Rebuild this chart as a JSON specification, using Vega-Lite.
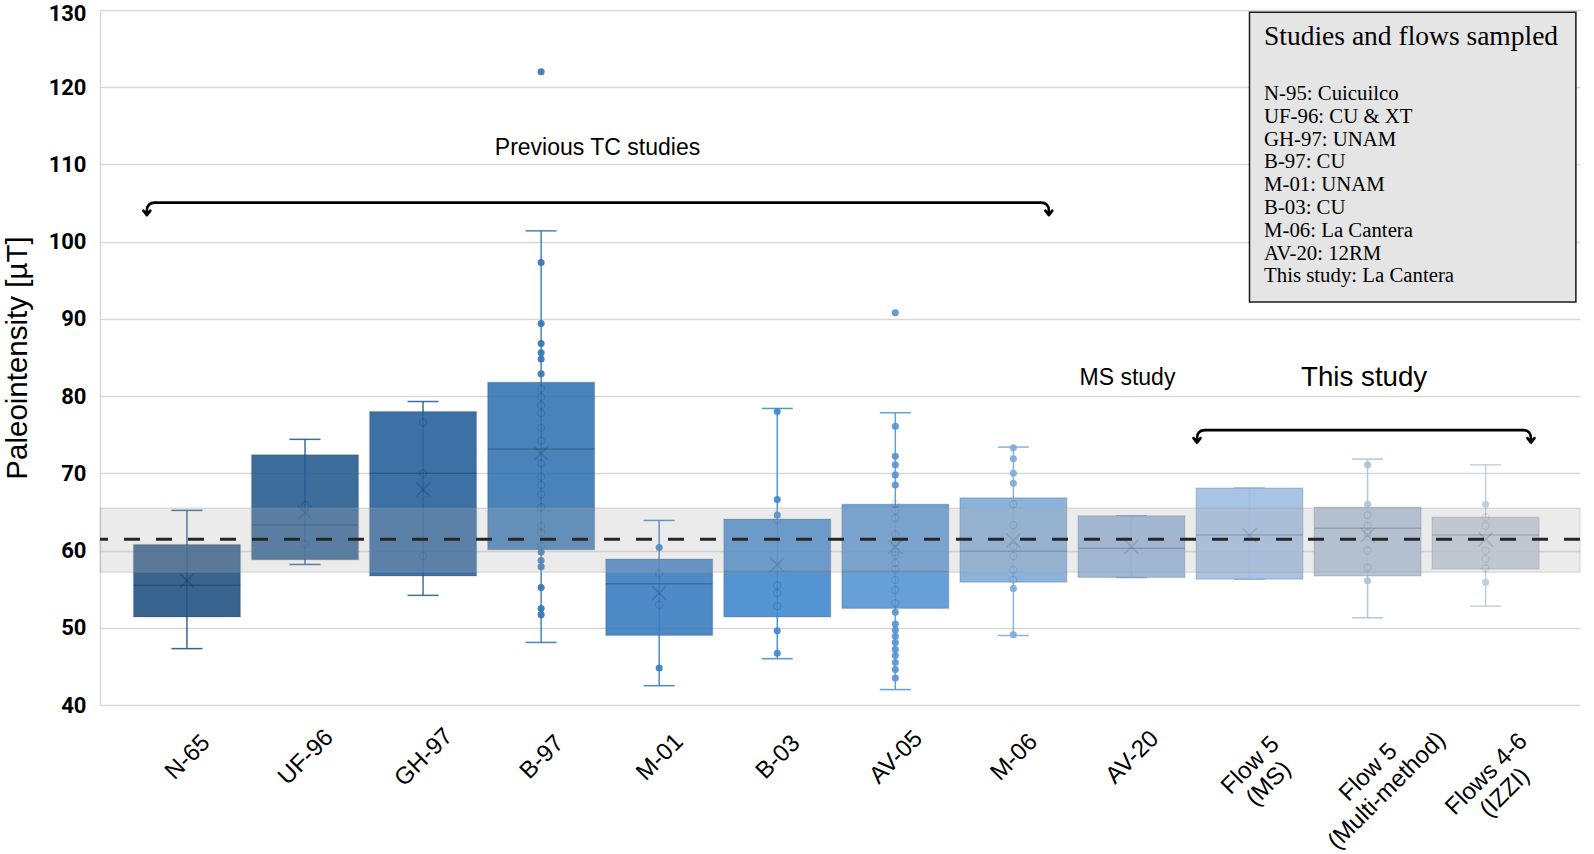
{
  "$schema": "https://vega.github.io/schema/vega-lite/v6.json",
  "width": 1480,
  "height": 695,
  "autosize": {"type": "none"},
  "padding": {"left": 100, "top": 10, "right": 14, "bottom": 149},
  "background": "white",
  "config": {
    "view": {"stroke": null},
    "font": "Liberation Sans",
    "axisX": {
      "labelAngle": -45, "labelAlign": "center", "labelBaseline": "middle",
      "labelFont": "Liberation Sans", "labelFontSize": 24, "labelColor": "#000",
      "labelOffset": 1, "ticks": false, "tickSize": 0,
      "domain": false, "grid": false, "labelOverlap": false, "labelLimit": 0,
      "labelLineHeight": 26
    },
    "axisY": {
      "grid": true, "gridColor": "#d9d9d9", "gridWidth": 1.5,
      "domain": true, "domainColor": "#d9d9d9", "domainWidth": 1.5,
      "ticks": false, "tickSize": 0, "tickCount": 10,
      "labelFont": "Roboto", "labelFontWeight": "bold", "labelFontSize": 22, "labelColor": "#000", "labelPadding": 14,
      "titleFont": "Liberation Sans", "titleFontSize": 29.5, "titleFontWeight": "normal", "titleColor": "#000", "titlePadding": 16
    }
  },
  "datasets": {
    "boxes": [
      {"cat": "N-65", "min": 47.3, "q1": 51.4, "median": 55.5, "q3": 60.8, "max": 65.2, "mean": 56.1},
      {"cat": "UF-96", "min": 58.2, "q1": 58.8, "median": 63.3, "q3": 72.4, "max": 74.4, "mean": 64.9},
      {"cat": "GH-97", "min": 54.2, "q1": 56.7, "median": 70.0, "q3": 78.0, "max": 79.3, "mean": 67.9},
      {"cat": "B-97", "min": 48.1, "q1": 60.1, "median": 73.15, "q3": 81.8, "max": 101.4, "mean": 72.6},
      {"cat": "M-01", "min": 42.5, "q1": 49.0, "median": 55.7, "q3": 58.9, "max": 63.9, "mean": 54.5},
      {"cat": "B-03", "min": 46.0, "q1": 51.4, "median": 57.3, "q3": 64.1, "max": 78.4, "mean": 58.2},
      {"cat": "AV-05", "min": 42.0, "q1": 52.5, "median": 57.3, "q3": 66.0, "max": 77.85, "mean": 60.5},
      {"cat": "M-06", "min": 49.0, "q1": 55.9, "median": 59.9, "q3": 66.85, "max": 73.4, "mean": 61.3},
      {"cat": "AV-20", "min": 56.5, "q1": 56.5, "median": 60.3, "q3": 64.5, "max": 64.5, "mean": 60.5},
      {"cat": "Flow 5 (MS)", "min": 56.3, "q1": 56.3, "median": 62.0, "q3": 68.1, "max": 68.1, "mean": 62.0},
      {"cat": "Flow 5 (Multi-method)", "min": 51.3, "q1": 56.7, "median": 62.9, "q3": 65.6, "max": 71.85, "mean": 62.0},
      {"cat": "Flows 4-6 (IZZI)", "min": 52.8, "q1": 57.6, "median": 62.0, "q3": 64.3, "max": 71.1, "mean": 61.45}
    ],
    "points": [
      {"cat": "UF-96", "v": 65.9}, {"cat": "UF-96", "v": 60.85},
      {"cat": "GH-97", "v": 76.6}, {"cat": "GH-97", "v": 70.0}, {"cat": "GH-97", "v": 59.3},
      {"cat": "B-97", "v": 122.0}, {"cat": "B-97", "v": 97.3}, {"cat": "B-97", "v": 89.4}, {"cat": "B-97", "v": 86.8},
      {"cat": "B-97", "v": 85.6}, {"cat": "B-97", "v": 84.8}, {"cat": "B-97", "v": 82.9}, {"cat": "B-97", "v": 81.0},
      {"cat": "B-97", "v": 79.9}, {"cat": "B-97", "v": 78.8}, {"cat": "B-97", "v": 77.8}, {"cat": "B-97", "v": 75.9},
      {"cat": "B-97", "v": 74.2}, {"cat": "B-97", "v": 71.3}, {"cat": "B-97", "v": 69.6}, {"cat": "B-97", "v": 68.5},
      {"cat": "B-97", "v": 67.3}, {"cat": "B-97", "v": 65.6}, {"cat": "B-97", "v": 63.2}, {"cat": "B-97", "v": 62.3},
      {"cat": "B-97", "v": 60.6}, {"cat": "B-97", "v": 59.8}, {"cat": "B-97", "v": 58.7}, {"cat": "B-97", "v": 57.9},
      {"cat": "B-97", "v": 55.2}, {"cat": "B-97", "v": 52.5}, {"cat": "B-97", "v": 51.7},
      {"cat": "M-01", "v": 60.4}, {"cat": "M-01", "v": 57.0}, {"cat": "M-01", "v": 53.0}, {"cat": "M-01", "v": 44.8},
      {"cat": "B-03", "v": 78.0}, {"cat": "B-03", "v": 66.6}, {"cat": "B-03", "v": 64.6}, {"cat": "B-03", "v": 64.0},
      {"cat": "B-03", "v": 55.5}, {"cat": "B-03", "v": 54.5}, {"cat": "B-03", "v": 52.8}, {"cat": "B-03", "v": 49.6},
      {"cat": "B-03", "v": 46.7},
      {"cat": "AV-05", "v": 90.8}, {"cat": "AV-05", "v": 76.1}, {"cat": "AV-05", "v": 72.2}, {"cat": "AV-05", "v": 71.1},
      {"cat": "AV-05", "v": 69.8}, {"cat": "AV-05", "v": 68.5}, {"cat": "AV-05", "v": 66.0}, {"cat": "AV-05", "v": 65.2},
      {"cat": "AV-05", "v": 64.2}, {"cat": "AV-05", "v": 62.1}, {"cat": "AV-05", "v": 61.0}, {"cat": "AV-05", "v": 59.8},
      {"cat": "AV-05", "v": 59.4}, {"cat": "AV-05", "v": 58.4}, {"cat": "AV-05", "v": 57.6}, {"cat": "AV-05", "v": 56.2},
      {"cat": "AV-05", "v": 54.9}, {"cat": "AV-05", "v": 53.2}, {"cat": "AV-05", "v": 52.0}, {"cat": "AV-05", "v": 50.5},
      {"cat": "AV-05", "v": 49.7}, {"cat": "AV-05", "v": 48.9}, {"cat": "AV-05", "v": 48.1}, {"cat": "AV-05", "v": 47.2},
      {"cat": "AV-05", "v": 46.4}, {"cat": "AV-05", "v": 45.5}, {"cat": "AV-05", "v": 44.6}, {"cat": "AV-05", "v": 43.5},
      {"cat": "M-06", "v": 73.3}, {"cat": "M-06", "v": 71.9}, {"cat": "M-06", "v": 70.0}, {"cat": "M-06", "v": 68.7},
      {"cat": "M-06", "v": 66.0}, {"cat": "M-06", "v": 63.3}, {"cat": "M-06", "v": 60.5}, {"cat": "M-06", "v": 59.3},
      {"cat": "M-06", "v": 57.5}, {"cat": "M-06", "v": 56.2}, {"cat": "M-06", "v": 55.1}, {"cat": "M-06", "v": 49.1},
      {"cat": "Flow 5 (Multi-method)", "v": 71.1}, {"cat": "Flow 5 (Multi-method)", "v": 66.0},
      {"cat": "Flow 5 (Multi-method)", "v": 64.6}, {"cat": "Flow 5 (Multi-method)", "v": 63.2},
      {"cat": "Flow 5 (Multi-method)", "v": 62.3}, {"cat": "Flow 5 (Multi-method)", "v": 60.0},
      {"cat": "Flow 5 (Multi-method)", "v": 57.8}, {"cat": "Flow 5 (Multi-method)", "v": 56.1},
      {"cat": "Flows 4-6 (IZZI)", "v": 66.0}, {"cat": "Flows 4-6 (IZZI)", "v": 64.3},
      {"cat": "Flows 4-6 (IZZI)", "v": 63.2}, {"cat": "Flows 4-6 (IZZI)", "v": 60.0},
      {"cat": "Flows 4-6 (IZZI)", "v": 58.9}, {"cat": "Flows 4-6 (IZZI)", "v": 57.7},
      {"cat": "Flows 4-6 (IZZI)", "v": 55.9}
    ],
    "reference": [{"lo": 57.2, "hi": 65.5, "mean": 61.45}],
    "prevBracket": [{"start": "N-65", "end": "M-06", "y": 105.05}],
    "thisBracket": [{"start": "Flow 5 (MS)", "end": "Flows 4-6 (IZZI)", "y": 75.6}],
    "legendBox": [{"a": "Flow 5 (MS)", "b": "Flows 4-6 (IZZI)", "top": 129.7, "bottom": 92.2, "title": "Studies and flows sampled", "titleY": 125.5, "itemsY": 118.35,
      "lines": ["N-95: Cuicuilco", "UF-96: CU & XT", "GH-97: UNAM", "B-97: CU", "M-01: UNAM", "B-03: CU", "M-06: La Cantera", "AV-20: 12RM", "This study: La Cantera"]}]
  },
  "layer": [
    {
      "data": {"name": "boxes"},
      "mark": {"type": "rule", "strokeWidth": 1.5, "opacity": 0.9},
      "encoding": {
        "x": {
          "field": "cat", "type": "nominal", "title": null,
          "scale": {"type": "band", "domain": ["N-65", "UF-96", "GH-97", "B-97", "M-01", "B-03", "AV-05", "M-06", "AV-20", "Flow 5 (MS)", "Flow 5 (Multi-method)", "Flows 4-6 (IZZI)"], "paddingInner": 0.094, "paddingOuter": 0.315, "align": 0.45},
          "axis": {
            "labelExpr": "indexof(datum.label, ' (') > 0 ? [substring(datum.label, 0, indexof(datum.label, ' (')), substring(datum.label, indexof(datum.label, ' (') + 1)] : datum.label",
            "labelPadding": {
              "condition": [
                {"test": "datum.value === 'Flow 5 (MS)'", "value": 60},
                {"test": "datum.value === 'Flow 5 (Multi-method)'", "value": 67},
                {"test": "datum.value === 'Flows 4-6 (IZZI)'", "value": 69}
              ],
              "value": 52
            }
          }
        },
        "y": {
          "field": "min", "type": "quantitative", "title": "Paleointensity [µT]",
          "scale": {"domain": [40, 130], "nice": false, "zero": false},
          "axis": {
            "labelOffset": {"condition": {"test": "datum.value === 130", "value": 3}, "value": 0}
          }
        },
        "y2": {"field": "max"},
        "color": {
          "field": "cat", "type": "nominal", "legend": null,
          "scale": {
            "domain": ["N-65", "UF-96", "GH-97", "B-97", "M-01", "B-03", "AV-05", "M-06", "AV-20", "Flow 5 (MS)", "Flow 5 (Multi-method)", "Flows 4-6 (IZZI)"],
            "range": ["#255484", "#275e91", "#29629d", "#3676b3", "#3a7ec0", "#4289ce", "#5795d4", "#7fabd9", "#92b1d8", "#a0bde3", "#aec0d8", "#bfcad9"]
          }
        }
      }
    },
    {
      "data": {"name": "boxes"},
      "mark": {"type": "tick", "orient": "horizontal", "size": 31, "thickness": 1.5, "opacity": 0.9},
      "encoding": {
        "x": {"field": "cat", "type": "nominal", "title": null},
        "y": {"field": "max", "type": "quantitative", "title": "Paleointensity [µT]"},
        "color": {"field": "cat", "type": "nominal", "legend": null}
      }
    },
    {
      "data": {"name": "boxes"},
      "mark": {"type": "tick", "orient": "horizontal", "size": 31, "thickness": 1.5, "opacity": 0.9},
      "encoding": {
        "x": {"field": "cat", "type": "nominal", "title": null},
        "y": {"field": "min", "type": "quantitative", "title": "Paleointensity [µT]"},
        "color": {"field": "cat", "type": "nominal", "legend": null}
      }
    },
    {
      "data": {"name": "boxes"},
      "mark": {"type": "bar", "opacity": 0.9, "stroke": "#000", "strokeOpacity": 0.12, "strokeWidth": 1.5},
      "encoding": {
        "x": {"field": "cat", "type": "nominal", "title": null},
        "y": {"field": "q1", "type": "quantitative", "title": "Paleointensity [µT]"},
        "y2": {"field": "q3"},
        "color": {"field": "cat", "type": "nominal", "legend": null}
      }
    },
    {
      "data": {"name": "boxes"},
      "mark": {"type": "bar", "fill": "transparent", "stroke": "#000", "strokeOpacity": 0.2, "strokeWidth": 1.5},
      "encoding": {
        "x": {"field": "cat", "type": "nominal", "title": null},
        "y": {"field": "median", "type": "quantitative", "title": "Paleointensity [µT]"},
        "y2": {"field": "median"}
      }
    },
    {
      "data": {"name": "boxes"},
      "mark": {"type": "point", "shape": "M-1,-1L1,1M-1,1L1,-1", "size": 196, "filled": false, "stroke": "#000", "strokeOpacity": 0.22, "strokeWidth": 1.6},
      "encoding": {
        "x": {"field": "cat", "type": "nominal", "title": null},
        "y": {"field": "mean", "type": "quantitative", "title": "Paleointensity [µT]"}
      }
    },
    {
      "data": {"name": "points"},
      "transform": [
        {"lookup": "cat", "from": {"data": {"name": "boxes"}, "key": "cat", "fields": ["q1", "q3"]}},
        {"filter": "datum.v >= datum.q1 && datum.v <= datum.q3"}
      ],
      "mark": {"type": "point", "shape": "circle", "size": 50, "filled": false, "stroke": "#000", "strokeOpacity": 0.14, "strokeWidth": 1.3},
      "encoding": {
        "x": {"field": "cat", "type": "nominal", "title": null},
        "y": {"field": "v", "type": "quantitative", "title": "Paleointensity [µT]"}
      }
    },
    {
      "data": {"name": "points"},
      "transform": [
        {"lookup": "cat", "from": {"data": {"name": "boxes"}, "key": "cat", "fields": ["q1", "q3"]}},
        {"filter": "datum.v < datum.q1 || datum.v > datum.q3"}
      ],
      "mark": {"type": "point", "shape": "circle", "size": 50, "filled": true, "opacity": 0.92},
      "encoding": {
        "x": {"field": "cat", "type": "nominal", "title": null},
        "y": {"field": "v", "type": "quantitative", "title": "Paleointensity [µT]"},
        "color": {"field": "cat", "type": "nominal", "legend": null}
      }
    },
    {
      "data": {"name": "reference"},
      "mark": {"type": "rect", "fill": "#b1b1b1", "fillOpacity": 0.26, "stroke": "#999999", "strokeOpacity": 0.35, "strokeWidth": 1},
      "encoding": {
        "y": {"field": "lo", "type": "quantitative", "title": "Paleointensity [µT]"},
        "y2": {"field": "hi"}
      }
    },
    {
      "data": {"name": "reference"},
      "mark": {"type": "rule", "strokeDash": [16, 16], "strokeWidth": 3, "color": "#262626"},
      "encoding": {
        "y": {"field": "mean", "type": "quantitative", "title": "Paleointensity [µT]"}
      }
    },
    {
      "data": {"name": "prevBracket"},
      "mark": {"type": "rule", "strokeWidth": 2.6, "color": "#000"},
      "encoding": {
        "x": {"field": "start", "type": "nominal", "bandPosition": 0.2, "title": null},
        "x2": {"field": "end", "bandPosition": 0.757},
        "y": {"field": "y", "type": "quantitative", "title": "Paleointensity [µT]"}
      }
    },
    {
      "data": {"name": "prevBracket"},
      "mark": {"type": "point", "shape": "M0,0Q-0.8,0,-0.8,0.8L-0.8,1.2M-1.15,0.8L-0.8,1.25L-0.45,0.8", "size": 400, "filled": false, "stroke": "#000", "strokeWidth": 2.6, "strokeCap": "round", "strokeJoin": "round", "opacity": 1},
      "encoding": {
        "x": {"field": "start", "type": "nominal", "bandPosition": 0.2, "title": null},
        "y": {"field": "y", "type": "quantitative", "title": "Paleointensity [µT]"}
      }
    },
    {
      "data": {"name": "prevBracket"},
      "mark": {"type": "point", "shape": "M0,0Q0.8,0,0.8,0.8L0.8,1.2M1.15,0.8L0.8,1.25L0.45,0.8", "size": 400, "filled": false, "stroke": "#000", "strokeWidth": 2.6, "strokeCap": "round", "strokeJoin": "round", "opacity": 1},
      "encoding": {
        "x": {"field": "end", "type": "nominal", "bandPosition": 0.757, "title": null},
        "y": {"field": "y", "type": "quantitative", "title": "Paleointensity [µT]"}
      }
    },
    {
      "data": {"name": "thisBracket"},
      "mark": {"type": "rule", "strokeWidth": 2.6, "color": "#000"},
      "encoding": {
        "x": {"field": "start", "type": "nominal", "bandPosition": 0.084, "title": null},
        "x2": {"field": "end", "bandPosition": 0.849},
        "y": {"field": "y", "type": "quantitative", "title": "Paleointensity [µT]"}
      }
    },
    {
      "data": {"name": "thisBracket"},
      "mark": {"type": "point", "shape": "M0,0Q-0.8,0,-0.8,0.8L-0.8,1.2M-1.15,0.8L-0.8,1.25L-0.45,0.8", "size": 400, "filled": false, "stroke": "#000", "strokeWidth": 2.6, "strokeCap": "round", "strokeJoin": "round", "opacity": 1},
      "encoding": {
        "x": {"field": "start", "type": "nominal", "bandPosition": 0.084, "title": null},
        "y": {"field": "y", "type": "quantitative", "title": "Paleointensity [µT]"}
      }
    },
    {
      "data": {"name": "thisBracket"},
      "mark": {"type": "point", "shape": "M0,0Q0.8,0,0.8,0.8L0.8,1.2M1.15,0.8L0.8,1.25L0.45,0.8", "size": 400, "filled": false, "stroke": "#000", "strokeWidth": 2.6, "strokeCap": "round", "strokeJoin": "round", "opacity": 1},
      "encoding": {
        "x": {"field": "end", "type": "nominal", "bandPosition": 0.849, "title": null},
        "y": {"field": "y", "type": "quantitative", "title": "Paleointensity [µT]"}
      }
    },
    {
      "data": {"values": [{"t": "Previous TC studies", "cat": "B-97", "y": 111.22}]},
      "mark": {"type": "text", "font": "Liberation Sans", "fontSize": 23, "align": "center", "baseline": "alphabetic", "color": "#000"},
      "encoding": {
        "x": {"field": "cat", "type": "nominal", "bandPosition": 1.027, "title": null},
        "y": {"field": "y", "type": "quantitative", "title": "Paleointensity [µT]"},
        "text": {"field": "t"}
      }
    },
    {
      "data": {"values": [{"t": "MS study", "cat": "AV-20", "y": 81.44}]},
      "mark": {"type": "text", "font": "Liberation Sans", "fontSize": 23, "align": "center", "baseline": "alphabetic", "color": "#000"},
      "encoding": {
        "x": {"field": "cat", "type": "nominal", "bandPosition": 0.463, "title": null},
        "y": {"field": "y", "type": "quantitative", "title": "Paleointensity [µT]"},
        "text": {"field": "t"}
      }
    },
    {
      "data": {"values": [{"t": "This study", "cat": "Flow 5 (Multi-method)", "y": 81.31}]},
      "mark": {"type": "text", "font": "Liberation Sans", "fontSize": 27.7, "align": "center", "baseline": "alphabetic", "color": "#000"},
      "encoding": {
        "x": {"field": "cat", "type": "nominal", "bandPosition": 0.468, "title": null},
        "y": {"field": "y", "type": "quantitative", "title": "Paleointensity [µT]"},
        "text": {"field": "t"}
      }
    },
    {
      "data": {"name": "legendBox"},
      "mark": {"type": "rect", "fill": "#e5e5e5", "stroke": "#1a1a1a", "strokeWidth": 1.5},
      "encoding": {
        "x": {"field": "a", "type": "nominal", "bandPosition": 0.5, "title": null},
        "x2": {"field": "b", "bandPosition": 1.344},
        "y": {"field": "top", "type": "quantitative", "title": "Paleointensity [µT]"},
        "y2": {"field": "bottom"}
      }
    },
    {
      "data": {"name": "legendBox"},
      "mark": {"type": "text", "font": "Liberation Serif", "fontSize": 27.5, "align": "left", "baseline": "alphabetic", "color": "#000"},
      "encoding": {
        "x": {"field": "a", "type": "nominal", "bandPosition": 0.636, "title": null},
        "y": {"field": "titleY", "type": "quantitative", "title": "Paleointensity [µT]"},
        "text": {"field": "title"}
      }
    },
    {
      "data": {"name": "legendBox"},
      "mark": {"type": "text", "font": "Liberation Serif", "fontSize": 20.8, "lineHeight": 22.8, "align": "left", "baseline": "alphabetic", "color": "#000"},
      "encoding": {
        "x": {"field": "a", "type": "nominal", "bandPosition": 0.636, "title": null},
        "y": {"field": "itemsY", "type": "quantitative", "title": "Paleointensity [µT]"},
        "text": {"field": "lines"}
      }
    }
  ]
}
